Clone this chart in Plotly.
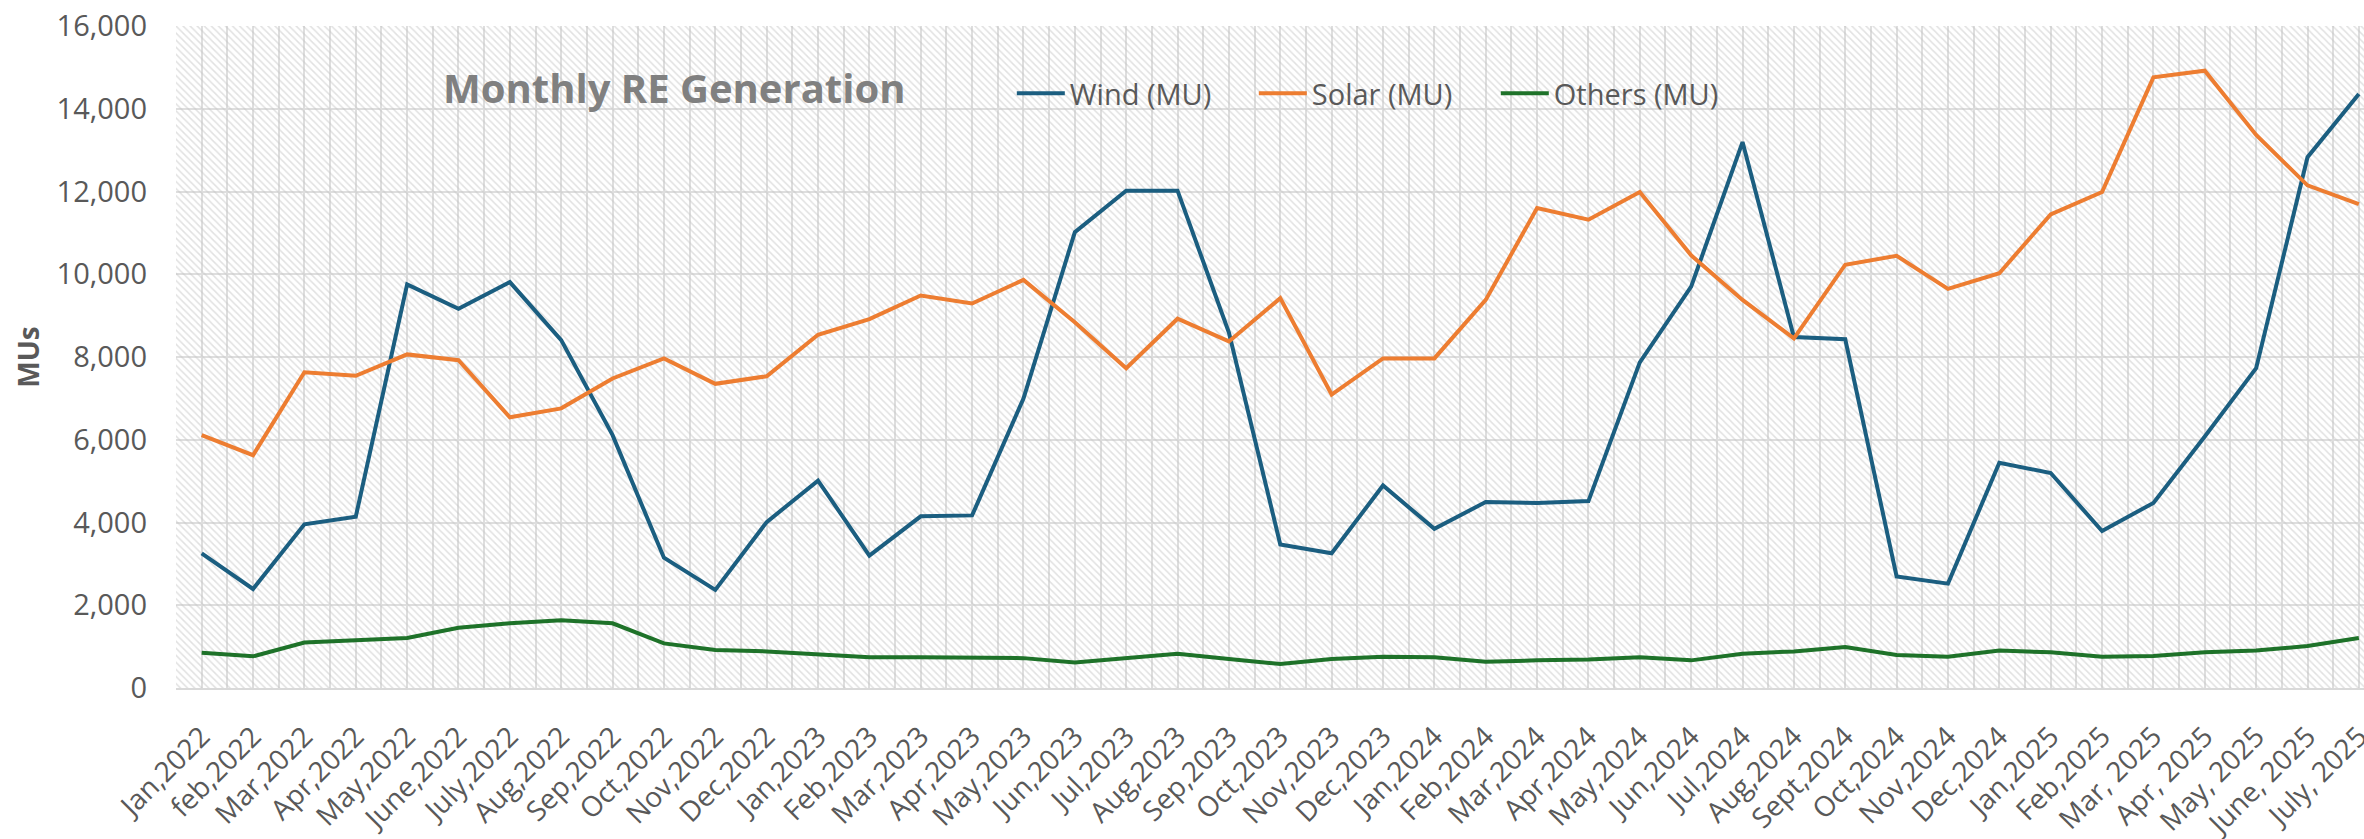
import plotly.graph_objects as go

months = ["Jan,2022", "feb,2022", "Mar,2022", "Apr,2022", "May,2022", "June,2022",
          "July,2022", "Aug,2022", "Sep,2022", "Oct,2022", "Nov,2022", "Dec,2022",
          "Jan,2023", "Feb,2023", "Mar,2023", "Apr,2023", "May,2023", "Jun,2023",
          "Jul,2023", "Aug,2023", "Sep,2023", "Oct,2023", "Nov,2023", "Dec,2023",
          "Jan,2024", "Feb,2024", "Mar,2024", "Apr,2024", "May,2024", "Jun,2024",
          "Jul,2024", "Aug,2024", "Sept,2024", "Oct,2024", "Nov,2024", "Dec,2024",
          "Jan,2025", "Feb,2025", "Mar, 2025", "Apr, 2025", "May, 2025", "June, 2025",
          "July, 2025"]

wind = [3256, 2393, 3956, 4140, 9756, 9163, 9810, 8408, 6112, 3148, 2372, 4010,
        5013, 3202, 4150, 4172, 6996, 11017, 12020, 12020, 8592, 3471, 3256, 4894,
        3848, 4495, 4474, 4517, 7869, 9702, 13195, 8484, 8430, 2695, 2523, 5444,
        5196, 3795, 4474, 6080, 7729, 12828, 14359]

solar = [6112, 5627, 7632, 7546, 8063, 7923, 6543, 6759, 7481, 7966, 7352, 7535,
         8538, 8915, 9486, 9292, 9864, 8840, 7729, 8926, 8376, 9422, 7093, 7966,
         7966, 9379, 11599, 11319, 11987, 10457, 9379, 8452, 10230, 10446, 9648, 10025,
         11448, 11987, 14758, 14920, 13367, 12149, 11696]

others = [852, 765, 1100, 1153, 1207, 1455, 1563, 1639, 1563, 1078, 916, 884,
          808, 744, 744, 722, 722, 614, 722, 830, 700, 582, 700, 755,
          744, 636, 668, 690, 744, 668, 830, 884, 992, 798, 755, 906,
          862, 755, 776, 862, 906, 1013, 1207]

y_ticks = [0, 2000, 4000, 6000, 8000, 10000, 12000, 14000, 16000]

series = [("Wind (MU)", wind, "#1B5E80"),
          ("Solar (MU)", solar, "#ED7D31"),
          ("Others (MU)", others, "#1E7229")]

FONT = "Open Sans"
TXT = "#595959"
GRID = "#dedede"

idx = list(range(len(months)))
x_lo, x_hi = -0.5, len(months) - 1 + 0.1
y_lo, y_hi = y_ticks[0], y_ticks[-1]

fig = go.Figure()

# hatched plot-area background
fig.add_trace(go.Scatter(
    x=[x_lo, x_hi, x_hi, x_lo, x_lo], y=[y_lo, y_lo, y_hi, y_hi, y_lo],
    mode="none", fill="toself", fillcolor="#c4c4c4",
    fillpattern=dict(shape="\\", size=5, solidity=0.3, fgcolor="#c4c4c4",
                     bgcolor="rgba(0,0,0,0)"),
    showlegend=False, hoverinfo="skip"))

for name, vals, color in series:
    fig.add_trace(go.Scatter(x=idx, y=vals, name=name, mode="lines",
                             line=dict(color=color, width=4)))

fig.update_layout(
    width=2364, height=839,
    margin=dict(l=176, r=0, t=26, b=151, autoexpand=False),
    paper_bgcolor="white", plot_bgcolor="white",
    font=dict(family=FONT, color=TXT, size=29),
    legend=dict(orientation="h", x=0.382, xanchor="left", y=0.898, yanchor="middle",
                bgcolor="rgba(0,0,0,0)", font=dict(size=29, color=TXT),
                itemwidth=48, entrywidth=179, entrywidthmode="pixels", tracegroupgap=0),
    annotations=[dict(text="<b>Monthly RE Generation</b>", xref="paper", yref="paper",
                      x=0.1211, y=0.907, xanchor="left", yanchor="middle",
                      showarrow=False, font=dict(family=FONT, size=40, color="#808080"))],
)

fig.update_xaxes(range=[x_lo, x_hi], tickvals=idx, ticktext=months, tickangle=-45,
                 showgrid=True, gridcolor=GRID, gridwidth=1.5,
                 minor=dict(tick0=0.5, dtick=1, showgrid=True, gridcolor=GRID, gridwidth=1.5),
                 showline=True, linecolor="#d9d9d9", linewidth=2, zeroline=False,
                 ticks="", ticklabelstandoff=19, ticklabeloverflow="allow",
                 tickfont=dict(family=FONT, size=28, color=TXT))

fig.update_yaxes(range=[y_lo, y_hi], tickvals=y_ticks, tickformat=",",
                 showgrid=True, gridcolor=GRID, gridwidth=1.5, zeroline=False,
                 showline=False, ticks="", ticklabelstandoff=28,
                 tickfont=dict(family=FONT, size=29, color=TXT),
                 title=dict(text="<b>MUs</b>", standoff=8,
                            font=dict(family=FONT, size=28, color=TXT)))

fig.write_html("out.html", config={"displayModeBar": False},
               post_script="document.body.style.margin='0';document.body.style.overflow='hidden';")
